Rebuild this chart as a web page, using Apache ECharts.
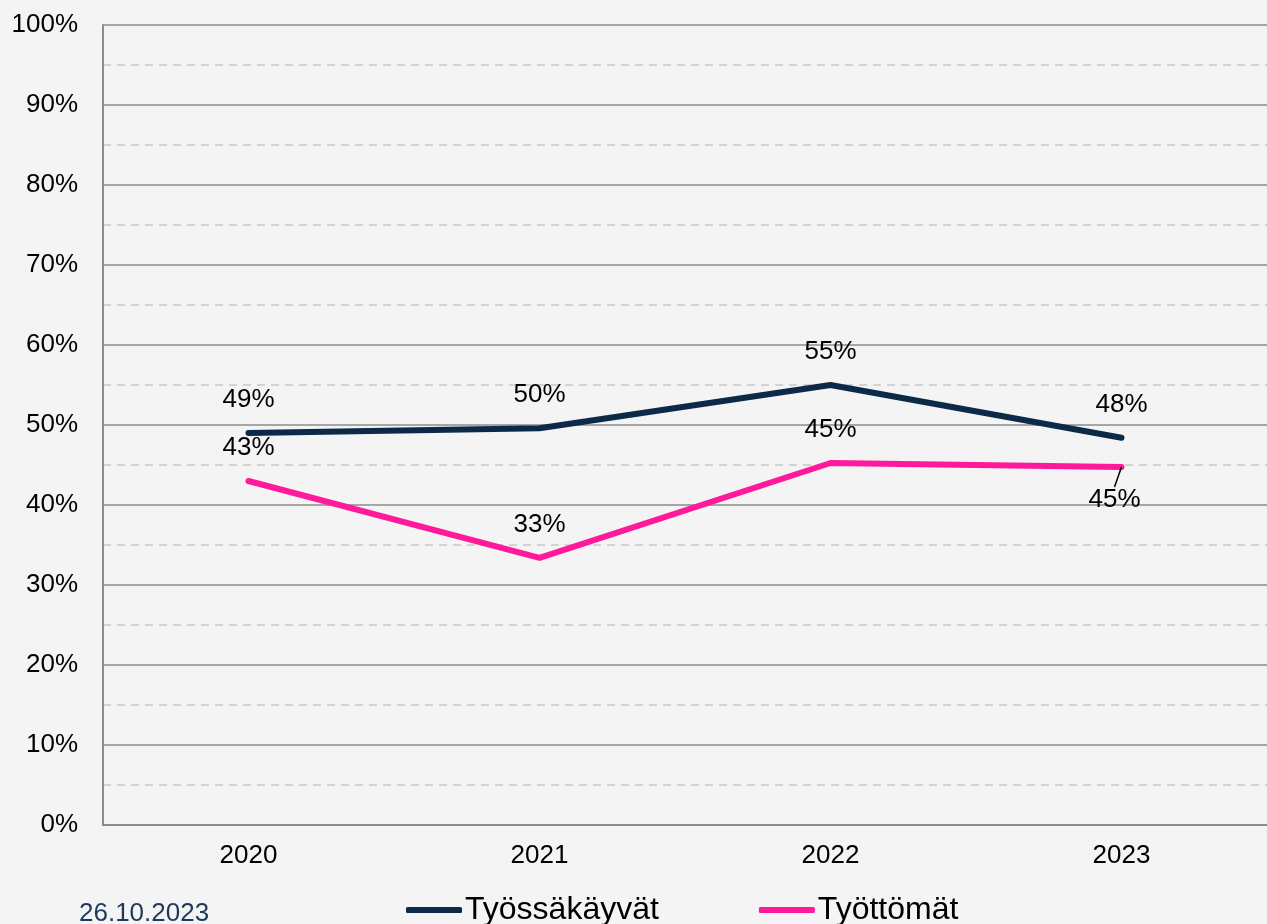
<!DOCTYPE html>
<html>
<head>
<meta charset="utf-8">
<script src="https://cdn.jsdelivr.net/npm/echarts@6/dist/echarts.min.js"></script>
<style>
	html, body {margin: 0; padding: 0; background: #f4f4f4;}
	#chart {width: 1267px; height: 924px;}
</style>
</head>
<body>
<div id="chart"></div>
<script>
var years = ['2020', '2021', '2022', '2023'];
var tyossakayvat = [49, 49.6, 55, 48.4];
var tyottomat = [43, 33.4, 45.25, 44.75];
var dateText = '26.10.2023';

var font = 'Liberation Sans, Arial, sans-serif';

var pinkData = tyottomat.map(function(v, i) {
	if (i == 3) {
		// last label sits under the point with a small leader line
		return {
			value: v,
			label: {position: 'bottom', distance: 20},
			labelLine: {show: true, lineStyle: {color: '#000', width: 1.5}}
		};
	}
	return v;
});

function pct(p) {
	return Math.round(p.value) + '%';
}

var option = {
	animation: false,
	backgroundColor: '#f4f4f4',
	textStyle: {fontFamily: font},
	grid: {left: 103, top: 25, bottom: 99, right: -3},
	legend: {
		left: 401,
		top: 889,
		itemWidth: 56,
		itemHeight: 6,
		itemGap: 100,
		textStyle: {fontSize: 32, color: '#000', fontFamily: font, padding: [0, 0, 0, -2]},
		data: [
			{name: 'Työssäkäyvät', icon: 'roundRect'},
			{name: 'Työttömät', icon: 'roundRect'}
		]
	},
	graphic: [{
		type: 'text',
		left: 79,
		top: 901,
		style: {text: dateText, fontSize: 26, fill: '#1d3a5c', fontFamily: font}
	}],
	xAxis: {
		type: 'category',
		data: years,
		boundaryGap: true,
		axisLine: {lineStyle: {color: '#8c8c8c', width: 2}},
		axisTick: {show: false},
		axisLabel: {fontSize: 26, color: '#000', margin: 18, fontFamily: font}
	},
	yAxis: {
		type: 'value',
		min: 0,
		max: 100,
		interval: 10,
		axisLine: {show: true, lineStyle: {color: '#8c8c8c', width: 2}},
		axisTick: {show: false},
		axisLabel: {fontSize: 26, color: '#000', margin: 25, formatter: '{value}%', fontFamily: font},
		splitLine: {lineStyle: {color: '#8c8c8c', width: 1.5}},
		minorTick: {show: false, splitNumber: 2},
		minorSplitLine: {show: true, lineStyle: {color: '#c8c8c8', width: 1.5, type: [8, 6]}}
	},
	series: [{
		name: 'Työssäkäyvät',
		type: 'line',
		data: tyossakayvat,
		symbol: 'circle',
		symbolSize: 0.1,
		showSymbol: true,
		color: '#0b2a47',
		lineStyle: {width: 6, cap: 'round', join: 'round'},
		label: {
			show: true,
			position: 'top',
			distance: 20,
			fontSize: 26,
			color: '#000',
			fontFamily: font,
			formatter: pct
		}
	}, {
		name: 'Työttömät',
		type: 'line',
		data: pinkData,
		symbol: 'circle',
		symbolSize: 0.1,
		showSymbol: true,
		color: '#ff1a9c',
		lineStyle: {width: 6, cap: 'round', join: 'round'},
		label: {
			show: true,
			position: 'top',
			distance: 20,
			fontSize: 26,
			color: '#000',
			fontFamily: font,
			formatter: pct
		},
		labelLayout: function(p) {
			if (p.dataIndex == 3) {
				return {dx: -7};
			}
		}
	}]
};

var chart = echarts.init(document.getElementById('chart'));
chart.setOption(option);
</script>
</body>
</html>
